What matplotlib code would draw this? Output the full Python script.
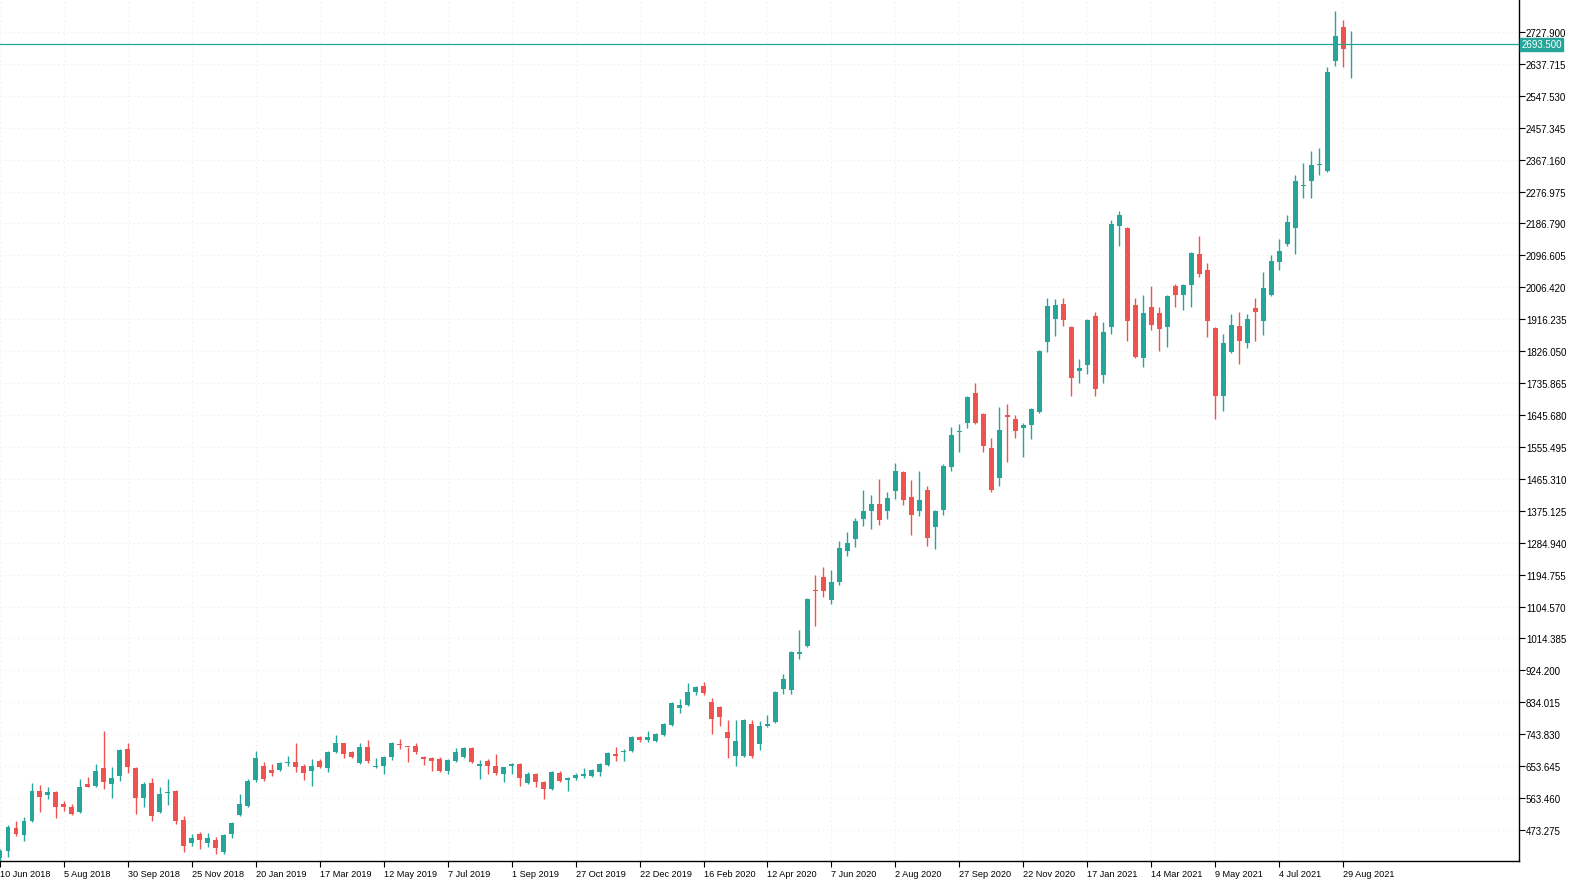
import matplotlib
matplotlib.use("Agg")
import matplotlib.pyplot as plt
import matplotlib.transforms as mtransforms
import numpy as np
import pandas as pd

# weekly candles, first bar = week of 10 Jun 2018
START = "2018-06-10"

opens = [395, 414, 479, 459, 499, 584, 572, 581, 547, 538,
         524, 603, 598, 649, 603, 626, 702, 649, 564, 606,
         524, 578, 584, 502, 437, 462, 437, 445, 411, 462,
         516, 541, 615, 654, 643, 643, 663, 665, 654, 640,
         668, 649, 694, 719, 694, 663, 708, 651, 654, 680,
         716, 708, 711, 680, 677, 674, 640, 668, 680, 705,
         654, 668, 654, 632, 654, 660, 606, 632, 609, 589,
         634, 615, 620, 626, 626, 637, 657, 688, 694, 696,
         736, 728, 725, 742, 770, 818, 826, 863, 880, 835,
         821, 750, 682, 682, 773, 716, 767, 778, 872, 869,
         971, 993, 1151, 1188, 1123, 1174, 1261, 1295, 1352, 1375,
         1394, 1375, 1431, 1485, 1414, 1375, 1434, 1329, 1377, 1499,
         1598, 1623, 1708, 1648, 1552, 1468, 1646, 1634, 1609, 1617,
         1654, 1852, 1917, 1959, 1894, 1770, 1787, 1925, 1759, 1894,
         2180, 2174, 1957, 1807, 1951, 1934, 1894, 2010, 1985, 2013,
         2100, 2055, 1891, 1699, 1824, 1897, 1849, 1948, 1911, 1985,
         2078, 2129, 2174, 2293, 2307, 2352, 2335, 2646, 2742, 2690]

highs = [420, 487, 499, 510, 606, 600, 595, 584, 555, 547,
         617, 623, 660, 753, 651, 702, 719, 652, 609, 620,
         595, 617, 586, 513, 462, 468, 465, 454, 462, 496,
         575, 617, 696, 665, 660, 665, 682, 719, 660, 674,
         674, 696, 742, 720, 696, 719, 728, 677, 682, 722,
         730, 709, 719, 682, 680, 680, 674, 705, 708, 708,
         671, 674, 688, 652, 663, 662, 637, 634, 612, 640,
         640, 623, 634, 649, 646, 663, 694, 708, 702, 739,
         738, 753, 747, 776, 835, 843, 889, 880, 891, 846,
         823, 784, 784, 786, 784, 781, 798, 866, 914, 979,
         1038, 1129, 1194, 1216, 1208, 1290, 1315, 1355, 1434, 1420,
         1465, 1428, 1510, 1487, 1462, 1487, 1445, 1377, 1507, 1612,
         1620, 1699, 1736, 1650, 1581, 1668, 1677, 1646, 1623, 1665,
         1829, 1976, 1973, 1976, 1897, 1804, 1917, 1937, 1908, 2197,
         2222, 2177, 1976, 1985, 2010, 1951, 1984, 2016, 2016, 2106,
         2151, 2075, 1894, 1874, 1931, 1937, 1931, 1976, 2050, 2098,
         2143, 2211, 2324, 2358, 2392, 2400, 2629, 2787, 2762, 2730]

lows = [385, 397, 456, 442, 496, 524, 561, 507, 527, 516,
        521, 595, 595, 589, 564, 612, 634, 519, 538, 499,
        521, 544, 490, 411, 428, 420, 425, 405, 405, 451,
        513, 538, 609, 612, 626, 640, 654, 637, 615, 598,
        649, 637, 691, 677, 678, 661, 663, 649, 632, 671,
        702, 665, 688, 657, 640, 637, 632, 666, 677, 663,
        617, 632, 629, 609, 632, 598, 604, 595, 561, 586,
        610, 584, 615, 620, 623, 626, 654, 668, 668, 694,
        722, 722, 722, 739, 767, 804, 824, 855, 855, 745,
        767, 677, 654, 680, 677, 699, 764, 776, 858, 858,
        956, 990, 1050, 1132, 1112, 1165, 1247, 1273, 1332, 1324,
        1335, 1352, 1408, 1391, 1307, 1360, 1276, 1267, 1363, 1487,
        1541, 1609, 1620, 1541, 1428, 1445, 1513, 1581, 1527, 1578,
        1652, 1824, 1869, 1897, 1699, 1736, 1761, 1699, 1736, 1874,
        2123, 1855, 1808, 1781, 1886, 1826, 1838, 1951, 1942, 1951,
        2036, 1866, 1634, 1657, 1822, 1790, 1835, 1855, 1872, 1982,
        2055, 2123, 2101, 2259, 2259, 2324, 2333, 2632, 2629, 2598]

closes = [414, 482, 462, 499, 584, 567, 581, 538, 538, 519,
          595, 595, 640, 609, 620, 699, 651, 564, 603, 513,
          575, 581, 499, 428, 451, 445, 451, 422, 459, 493,
          547, 612, 677, 617, 634, 663, 665, 651, 634, 654,
          651, 694, 719, 688, 680, 708, 668, 652, 680, 719,
          714, 707, 694, 674, 668, 640, 671, 694, 705, 665,
          660, 654, 634, 651, 660, 620, 632, 609, 589, 637,
          612, 620, 629, 632, 643, 660, 691, 682, 696, 736,
          728, 736, 745, 773, 832, 826, 863, 877, 860, 787,
          793, 733, 725, 784, 682, 767, 773, 863, 900, 976,
          976, 1126, 1149, 1149, 1174, 1270, 1284, 1346, 1375, 1394,
          1349, 1411, 1487, 1406, 1363, 1406, 1298, 1375, 1502, 1589,
          1600, 1696, 1623, 1558, 1434, 1603, 1640, 1600, 1617, 1663,
          1826, 1954, 1957, 1914, 1750, 1778, 1914, 1719, 1880, 2185,
          2211, 1911, 1810, 1934, 1900, 1889, 1982, 1985, 2013, 2103,
          2044, 1911, 1699, 1849, 1900, 1855, 1917, 1937, 2004, 2081,
          2109, 2191, 2307, 2296, 2352, 2355, 2615, 2716, 2680, 2693.5]

last_price = 2693.5
price_ticks = [473.275, 563.460, 653.645, 743.830, 834.015, 924.200, 1014.385,
               1104.570, 1194.755, 1284.940, 1375.125, 1465.310, 1555.495,
               1645.680, 1735.865, 1826.050, 1916.235, 2006.420, 2096.605,
               2186.790, 2276.975, 2367.160, 2457.345, 2547.530, 2637.715,
               2727.900]

UP = "#26a69a"
DOWN = "#ef5350"
FONT = "Liberation Sans"

dates = pd.date_range(START, periods=len(opens), freq="7D")
x = np.arange(len(opens))
o = np.array(opens, dtype=float)
c = np.array(closes, dtype=float)
colors = np.where(c >= o, UP, DOWN)

fig = plt.figure(figsize=(15.71, 8.87), dpi=100)
ax = fig.add_axes([0.0, 25 / 887, 1519 / 1571, 862 / 887])

# wicks then bodies
ax.vlines(x, lows, highs, colors=colors, linewidth=1.0, zorder=2)
body_h = np.maximum(np.abs(c - o), 2.6)
ax.bar(x, body_h, bottom=np.minimum(o, c), width=0.62, color=colors,
       linewidth=0, zorder=3)

ax.set_xlim(0.125, 190.0)
ax.set_ylim(385.7, 2820.9)

# price axis on the right
ax.yaxis.tick_right()
ax.set_yticks(price_ticks)
ax.set_yticklabels([f"{v:.3f}" for v in price_ticks], fontsize=7.0,
                   family=FONT)
ax.tick_params(axis="y", direction="out", length=4, width=0.8, pad=1)

# time axis: every 8 weeks
xt = x[::8]
ax.set_xticks(xt)
ax.set_xticklabels([f"{d.day} {d:%b %Y}" for d in dates[::8]], fontsize=6.6,
                   family=FONT, ha="left")
ax.tick_params(axis="x", direction="out", length=4, width=0.8, pad=2)

for lab in ax.get_xticklabels():
    lab.set_horizontalalignment("left")

ax.grid(True, color="#ededed", linestyle=(0, (1, 3)), linewidth=0.8)
ax.set_axisbelow(True)

for side in ("left", "top"):
    ax.spines[side].set_visible(False)
for side in ("right", "bottom"):
    ax.spines[side].set_linewidth(1.0)
    ax.spines[side].set_color("black")

# last price line and label
ax.axhline(last_price, color=UP, linewidth=0.9, zorder=4)
trans = mtransforms.blended_transform_factory(ax.transAxes, ax.transData)
ax.text(1.0015, last_price, f"{last_price:.3f}", transform=trans,
        fontsize=7.0, family=FONT, color="white", ha="left", va="center",
        bbox=dict(boxstyle="square,pad=0.15", facecolor=UP, edgecolor=UP),
        zorder=5, clip_on=False)

fig.savefig("out.png", dpi=100, facecolor="white")
